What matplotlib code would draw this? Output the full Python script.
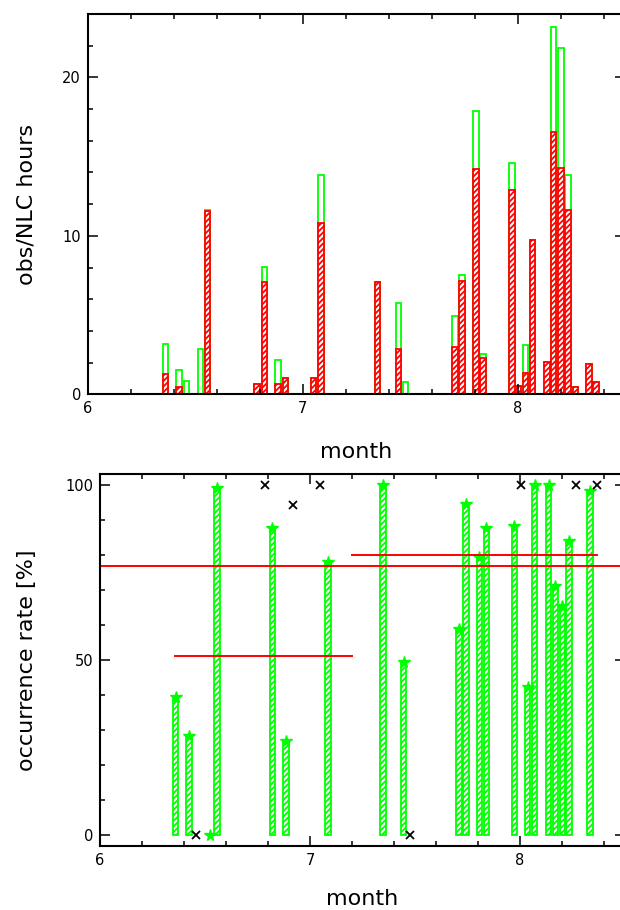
import matplotlib

matplotlib.use("Agg")
import matplotlib.pyplot as plt
import numpy as np
from matplotlib.ticker import MultipleLocator

# %%
# daily bins (month as fraction)
days = [6.360, 6.424, 6.458, 6.523, 6.557, 6.787, 6.821, 6.885, 6.920, 7.050,
        7.085, 7.347, 7.446, 7.478, 7.709, 7.742, 7.806, 7.840, 7.973, 8.005,
        8.037, 8.070, 8.136, 8.168, 8.202, 8.234, 8.269, 8.333, 8.366]
obs_hours = [3.19, 1.55, 0.84, 2.85, 11.65, 0.67, 8.04, 2.18, 1.00, 1.03,
             13.87, 7.11, 5.77, 0.80, 4.97, 7.53, 17.90, 2.56, 14.59, 0.52,
             3.11, 9.72, 2.06, 23.19, 21.83, 13.83, 0.46, 1.91, 0.80]
nlc_hours = [1.30, 0.48, 0.00, 0.00, 11.58, 0.67, 7.09, 0.63, 1.00, 1.03,
             10.81, 7.11, 2.88, 0.00, 2.96, 7.18, 14.23, 2.27, 12.91, 0.52,
             1.36, 9.72, 2.06, 16.56, 14.27, 11.63, 0.46, 1.91, 0.80]

# occurrence rate [%], flagged days drawn as crosses
rate = [39.3, 28.3, 0.0, 0.0, 99.2, 100.0, 87.8, 27.0, 94.3, 100.0,
        78.1, 100.0, 49.4, 0.0, 58.9, 94.6, 79.5, 87.6, 88.3, 100.0,
        42.2, 100.0, 100.0, 71.2, 65.4, 84.0, 100.0, 98.1, 100.0]
flagged = [0, 0, 1, 0, 0, 1, 0, 0, 1, 1,
           0, 0, 0, 1, 0, 0, 0, 0, 0, 1,
           0, 0, 0, 0, 0, 0, 1, 0, 1]

# mean rates
period_start = [6.359, 7.202]
period_end = [7.202, 8.366]
period_mean = [51.2, 79.9]
overall_mean = 76.9

# %%
plt.rcParams["font.family"] = ["DejaVu Sans"]
plt.rcParams["hatch.linewidth"] = 1.3

green = "#00ff00"
red = "#ff0000"
bar_w = 0.026

days = np.array(days)
rate = np.array(rate)
flagged = np.array(flagged, dtype=bool)

fig = plt.figure(figsize=(6.2, 9.1), dpi=100)
ax1 = fig.add_axes([88 / 620, 1 - 394.3 / 910, 537 / 620, 380.3 / 910])
ax2 = fig.add_axes([100 / 620, 1 - 845.7 / 910, 525 / 620, 371.4 / 910])

# top: observed hours and NLC hours
ax1.bar(days, obs_hours, width=bar_w, facecolor="none", edgecolor=green, linewidth=1.3)
ax1.bar(days, nlc_hours, width=bar_w, facecolor="white", edgecolor=red,
        hatch="//////", linewidth=1.3)
ax1.set_xlim(6, 8.5)
ax1.set_ylim(0, 24)
ax1.yaxis.set_major_locator(MultipleLocator(10))
ax1.yaxis.set_minor_locator(MultipleLocator(2))

# bottom: occurrence rate
ok = ~flagged
ax2.bar(days[ok], rate[ok], width=bar_w, facecolor="white", edgecolor=green,
        hatch="//////", linewidth=1.3)
ax2.plot(days[ok], rate[ok], ls="none", marker="*", ms=8.5, color=green,
         mec=green)
ax2.plot(days[flagged], rate[flagged], ls="none", marker="x", ms=6, color="k",
         mew=1.3)
for x0, x1, m in zip(period_start, period_end, period_mean):
    ax2.plot([x0, x1], [m, m], color=red, lw=1.4)
ax2.axhline(overall_mean, color=red, lw=1.4)
ax2.set_xlim(6, 8.5)
ax2.set_ylim(-3, 103)
ax2.yaxis.set_major_locator(MultipleLocator(50))
ax2.yaxis.set_minor_locator(MultipleLocator(10))

for ax in (ax1, ax2):
    ax.xaxis.set_major_locator(MultipleLocator(1))
    ax.xaxis.set_minor_locator(MultipleLocator(0.2))
    ax.tick_params(which="both", direction="in", top=True, right=True,
                   width=1.1, labelsize=10.5, pad=5)
    ax.tick_params(which="major", length=7)
    ax.tick_params(which="minor", length=3.6)
    for s in ax.spines.values():
        s.set_linewidth(1.5)

fig.text(26 / 620, 1 - 204 / 910, "obs/NLC hours", rotation=90,
         ha="center", va="center", fontsize=16)
fig.text(356 / 620, 1 - 452 / 910, "month", ha="center", va="center", fontsize=16)
fig.text(27 / 620, 1 - 660 / 910, "occurrence rate [%]", rotation=90,
         ha="center", va="center", fontsize=16)
fig.text(362 / 620, 1 - 899 / 910, "month", ha="center", va="center", fontsize=16)

fig.savefig("out.png", dpi=100)
